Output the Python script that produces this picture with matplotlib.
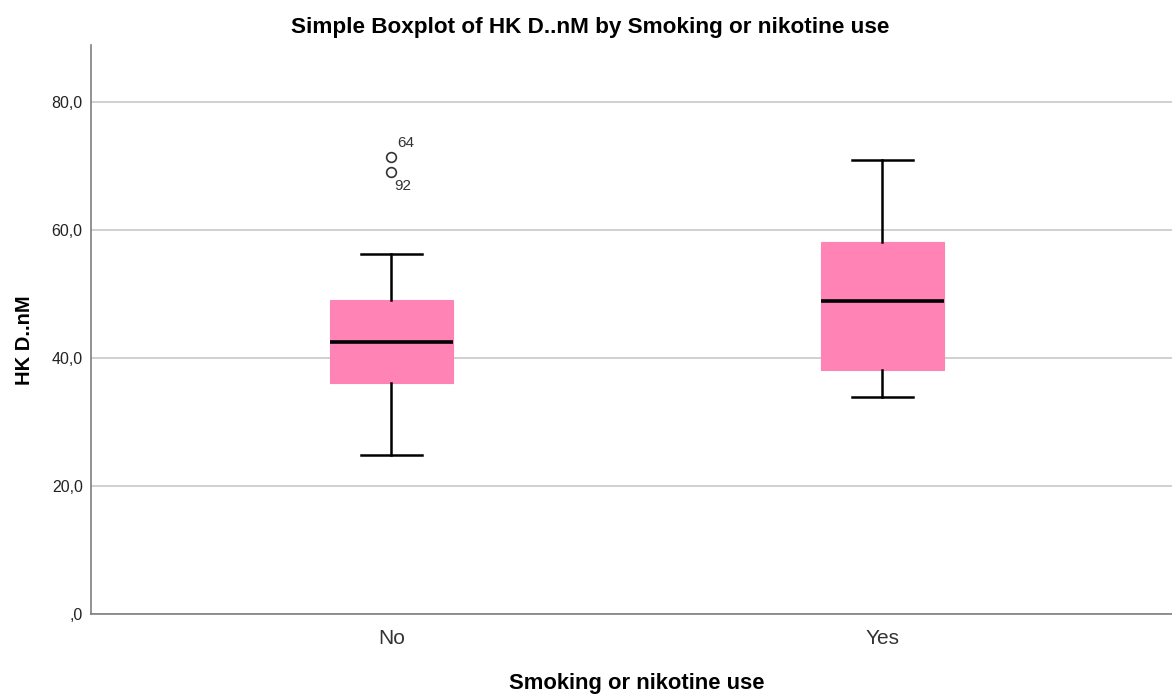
import matplotlib.pyplot as plt
from matplotlib.ticker import FuncFormatter

# Data (summary statistics per group)
groups = ["No", "Yes"]
whisker_low = [24.8, 33.9]
q1 = [36.1, 38.1]
median = [42.5, 48.9]
q3 = [49.1, 58.1]
whisker_high = [56.2, 71.0]
outlier_values = [[71.4, 69.1], []]
outlier_ids = [["64", "92"], []]

pink = "#FF84B5"
grid_color = "#C8C8C8"
spine_color = "#7F7F7F"

plt.rcParams["font.family"] = ["Liberation Sans", "DejaVu Sans"]

stats = []
for i, g in enumerate(groups):
    stats.append({
        "label": g,
        "whislo": whisker_low[i],
        "q1": q1[i],
        "med": median[i],
        "q3": q3[i],
        "whishi": whisker_high[i],
        "fliers": outlier_values[i],
    })

fig = plt.figure(figsize=(11.72, 6.95), dpi=100, facecolor="white")
ax = fig.add_axes([91 / 1172, 1 - 614 / 695, (1172 - 91) / 1172, (614 - 45) / 695])

positions = list(range(len(groups)))
ax.bxp(
    stats,
    positions=positions,
    widths=0.25,
    patch_artist=True,
    boxprops=dict(facecolor=pink, edgecolor=pink, linewidth=0.8),
    medianprops=dict(color="black", linewidth=2.6),
    whiskerprops=dict(color="black", linewidth=1.8),
    capprops=dict(color="black", linewidth=1.8),
    capwidths=0.125,
    flierprops=dict(marker="o", markerfacecolor="none", markeredgecolor="#333333",
                    markersize=7, markeredgewidth=1.2),
    zorder=3,
)

# Case labels next to the outliers
for pos, vals, ids in zip(positions, outlier_values, outlier_ids):
    for j, (v, lab) in enumerate(zip(vals, ids)):
        if j == 0:
            ax.annotate(lab, (pos, v), xytext=(4, 5), textcoords="offset points",
                        ha="left", va="bottom", fontsize=11, color="#333333")
        else:
            ax.annotate(lab, (pos, v), xytext=(2, -5), textcoords="offset points",
                        ha="left", va="top", fontsize=11, color="#333333")

ax.set_xlim(-0.612, 1.59)
ax.set_ylim(0, 88.9)
ax.set_yticks([0, 20, 40, 60, 80])
ax.yaxis.set_major_formatter(FuncFormatter(
    lambda v, p: ",0" if v == 0 else f"{v:.1f}".replace(".", ",")))
ax.set_xticks(positions)
ax.set_xticklabels(groups, fontsize=15, color="#333333",
                   family=["Liberation Sans Narrow", "Liberation Sans"])
ax.tick_params(axis="y", labelsize=11.5, colors="#222222", length=0, pad=6)
ax.tick_params(axis="x", length=0, pad=11)

ax.yaxis.grid(True, color=grid_color, linewidth=1.2, zorder=0)
ax.set_axisbelow(True)

for side in ["top", "right"]:
    ax.spines[side].set_visible(False)
for side in ["left", "bottom"]:
    ax.spines[side].set_color(spine_color)
    ax.spines[side].set_linewidth(1.2)

fig.text(590 / 1172, 1 - 27 / 695, "Simple Boxplot of HK D..nM by Smoking or nikotine use",
         fontsize=16.2, fontweight="bold", ha="center", va="center")
fig.text(637 / 1172, 1 - 683 / 695, "Smoking or nikotine use",
         fontsize=15.8, fontweight="bold", ha="center", va="center")
ax.set_ylabel("HK D..nM", fontsize=14.5, fontweight="bold")
ax.yaxis.set_label_coords(-0.053, (614 - 340) / (614 - 45))

fig.savefig("out.png", dpi=100, facecolor="white")
